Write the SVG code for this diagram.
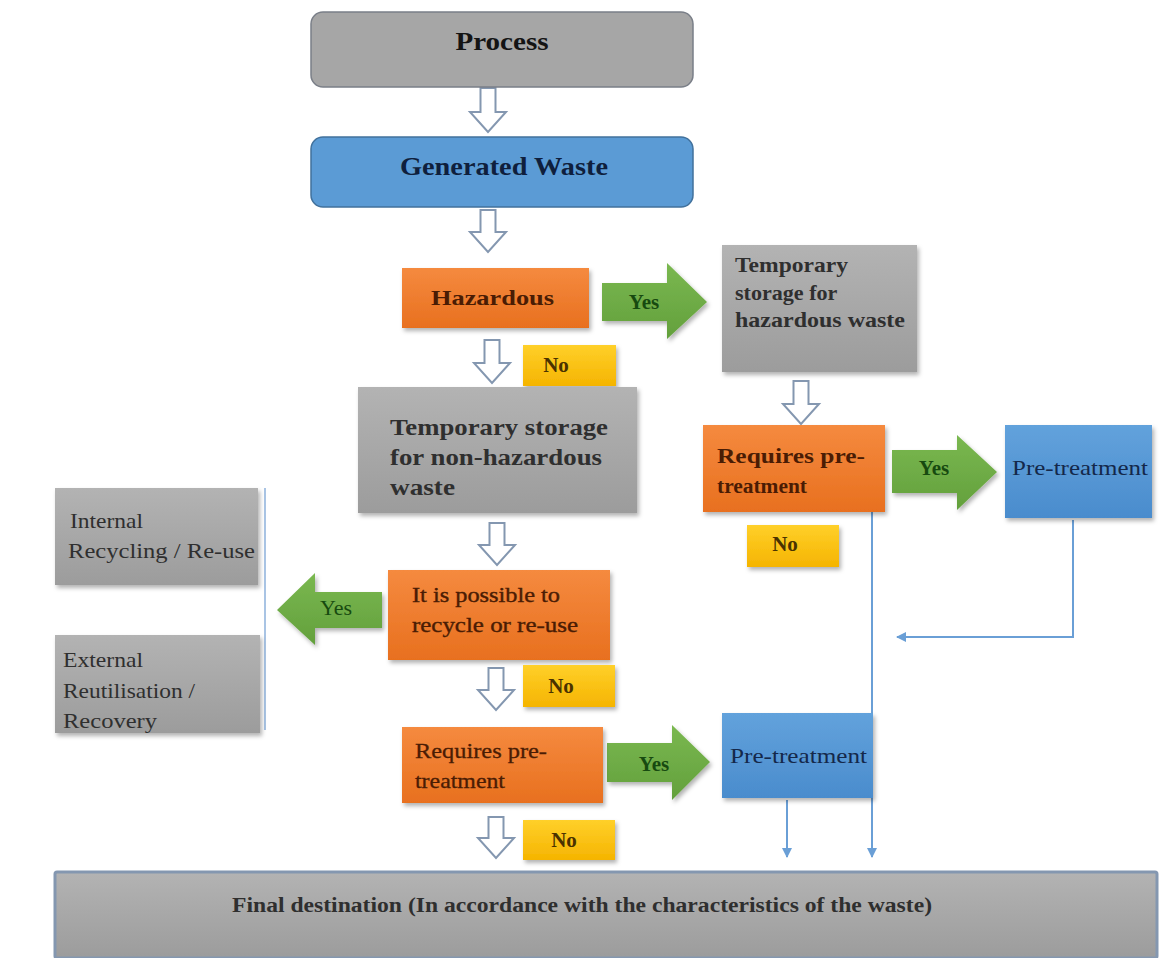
<svg xmlns="http://www.w3.org/2000/svg" width="1166" height="958" viewBox="0 0 1166 958">
  <style>
    .t { font-family: "Liberation Serif", "Times New Roman", serif; }
    .hb { font-family: "Liberation Serif", "Times New Roman", serif; font-weight: bold; }
    .gray-txt { fill: #2f2f2f; }
    .org-txt { fill: #4a1c04; }
    .blue-txt { fill: #14284a; }
    .grn-txt { fill: #174a10; }
    .yel-txt { fill: #4a3200; }
    .hollow { fill: #ffffff; stroke: #8497b0; stroke-width: 2; stroke-linejoin: miter; }
    .link { fill: none; stroke: #6a9fd6; stroke-width: 2; }
    .green { fill: url(#gGreen); }
  </style>
  <defs>
    <filter id="shadow" x="-10%" y="-10%" width="125%" height="130%">
      <feDropShadow dx="2" dy="3" stdDeviation="2" flood-color="#000" flood-opacity="0.3"/>
    </filter>
    <linearGradient id="gGray" x1="0" y1="0" x2="0" y2="1">
      <stop offset="0" stop-color="#b3b3b3"/>
      <stop offset="1" stop-color="#9c9c9c"/>
    </linearGradient>
    <linearGradient id="gOrange" x1="0" y1="0" x2="0" y2="1">
      <stop offset="0" stop-color="#f58a3f"/>
      <stop offset="1" stop-color="#e8701f"/>
    </linearGradient>
    <linearGradient id="gBlue" x1="0" y1="0" x2="0" y2="1">
      <stop offset="0" stop-color="#62a2dc"/>
      <stop offset="1" stop-color="#4a8ccd"/>
    </linearGradient>
    <linearGradient id="gYellow" x1="0" y1="0" x2="0" y2="1">
      <stop offset="0" stop-color="#ffd02a"/>
      <stop offset="1" stop-color="#f5b400"/>
    </linearGradient>
    <linearGradient id="gGreen" x1="0" y1="0" x2="0" y2="1">
      <stop offset="0" stop-color="#7ab850"/>
      <stop offset="1" stop-color="#63a03c"/>
    </linearGradient>
    <marker id="tri" markerWidth="10" markerHeight="10" refX="9" refY="5" orient="auto" markerUnits="userSpaceOnUse">
      <path d="M0,0 L10,5 L0,10 Z" fill="#6a9fd6"/>
    </marker>
  </defs>

  <rect width="1166" height="958" fill="#ffffff"/>

  <!-- connectors -->
  <g id="connectors">
    <!-- hollow flow arrows -->
    <path class="hollow" d="M480.5,88 H495.5 V112 H506 L488,132 L470,112 H480.5 Z"/>
    <path class="hollow" d="M480.5,210 H495.5 V232 H506 L488,252 L470,232 H480.5 Z"/>
    <path class="hollow" d="M484.5,340 H499.5 V363 H510 L492,383 L474,363 H484.5 Z"/>
    <path class="hollow" d="M793.5,381 H808.5 V404 H819 L801,424 L783,404 H793.5 Z"/>
    <path class="hollow" d="M489.5,523 H504.5 V545 H515 L497,565 L479,545 H489.5 Z"/>
    <path class="hollow" d="M488.5,668 H503.5 V690 H514 L496,710 L478,690 H488.5 Z"/>
    <path class="hollow" d="M488.5,817 H503.5 V838 H514 L496,858 L478,838 H488.5 Z"/>

    <!-- green decision arrows -->
    <g filter="url(#shadow)">
      <path class="green" d="M602,283 H667 V263 L707,302 L667,339 V321 H602 Z"/>
      <path class="green" d="M892,450 H957 V435 L997,472 L957,510 V493 H892 Z"/>
      <path class="green" d="M382,592 H315 V573 L277,610 L315,645 V628 H382 Z"/>
      <path class="green" d="M607,743 H672 V725 L710,762 L672,800 V782 H607 Z"/>
    </g>
    <text class="hb grn-txt" x="644" y="309" font-size="21" text-anchor="middle">Yes</text>
    <text class="hb grn-txt" x="934" y="475" font-size="21" text-anchor="middle">Yes</text>
    <text class="t grn-txt" x="336" y="615" font-size="22" text-anchor="middle">Yes</text>
    <text class="hb grn-txt" x="654" y="771" font-size="21" text-anchor="middle">Yes</text>

    <!-- thin lines to final destination -->
    <line class="link" x1="872" y1="512" x2="872" y2="857" marker-end="url(#tri)"/>
    <polyline class="link" points="1073,520 1073,637 897,637" marker-end="url(#tri)"/>
    <line class="link" x1="787" y1="800" x2="787" y2="857" marker-end="url(#tri)"/>
    <line x1="265" y1="488" x2="265" y2="730" stroke="#a9c4e4" stroke-width="2"/>
  </g>

  <!-- nodes -->
  <g id="process">
    <rect x="311" y="12" width="382" height="75" rx="12" fill="#a6a6a6" stroke="#7a7f88" stroke-width="1.5"/>
    <text class="hb" x="502" y="50" font-size="25" fill="#141414" text-anchor="middle" textLength="93" lengthAdjust="spacingAndGlyphs">Process</text>
  </g>

  <g id="generated-waste">
    <rect x="311" y="137" width="382" height="70" rx="12" fill="#5b9bd5" stroke="#41719c" stroke-width="1.5"/>
    <text class="hb" x="400" y="175" font-size="25" fill="#0f1f3d" textLength="208" lengthAdjust="spacingAndGlyphs">Generated Waste</text>
  </g>

  <g id="hazardous">
    <rect x="402" y="268" width="187" height="60" fill="url(#gOrange)" filter="url(#shadow)"/>
    <text class="hb org-txt" x="431" y="305" font-size="22" textLength="123" lengthAdjust="spacingAndGlyphs">Hazardous</text>
  </g>

  <g id="no-hazardous">
    <rect x="523" y="345" width="93" height="41" fill="url(#gYellow)" filter="url(#shadow)"/>
    <text class="hb yel-txt" x="556" y="372" font-size="21" text-anchor="middle">No</text>
  </g>

  <g id="storage-hazardous">
    <rect x="722" y="245" width="195" height="127" fill="url(#gGray)" filter="url(#shadow)"/>
    <text class="hb gray-txt" font-size="21">
      <tspan x="735" y="272" textLength="113" lengthAdjust="spacingAndGlyphs">Temporary</tspan>
      <tspan x="735" y="300" textLength="102" lengthAdjust="spacingAndGlyphs">storage for</tspan>
      <tspan x="735" y="327" textLength="170" lengthAdjust="spacingAndGlyphs">hazardous waste</tspan>
    </text>
  </g>

  <g id="storage-non-hazardous">
    <rect x="358" y="387" width="279" height="126" fill="url(#gGray)" filter="url(#shadow)"/>
    <text class="hb gray-txt" font-size="23">
      <tspan x="390" y="435" textLength="218" lengthAdjust="spacingAndGlyphs">Temporary storage</tspan>
      <tspan x="390" y="465" textLength="212" lengthAdjust="spacingAndGlyphs">for non-hazardous</tspan>
      <tspan x="390" y="495" textLength="65" lengthAdjust="spacingAndGlyphs">waste</tspan>
    </text>
  </g>

  <g id="requires-pretreatment-hazardous">
    <rect x="703" y="425" width="182" height="87" fill="url(#gOrange)" filter="url(#shadow)"/>
    <text class="hb org-txt" font-size="20">
      <tspan x="717" y="463" textLength="148" lengthAdjust="spacingAndGlyphs">Requires pre-</tspan>
      <tspan x="717" y="493" textLength="90" lengthAdjust="spacingAndGlyphs">treatment</tspan>
    </text>
  </g>

  <g id="no-pretreatment-hazardous">
    <rect x="747" y="525" width="92" height="42" fill="url(#gYellow)" filter="url(#shadow)"/>
    <text class="hb yel-txt" x="785" y="551" font-size="21" text-anchor="middle">No</text>
  </g>

  <g id="pretreatment-hazardous">
    <rect x="1005" y="425" width="147" height="93" fill="url(#gBlue)" filter="url(#shadow)"/>
    <text class="t blue-txt" x="1012" y="475" font-size="21" textLength="136" lengthAdjust="spacingAndGlyphs">Pre-treatment</text>
  </g>

  <g id="internal-recycling">
    <rect x="55" y="488" width="203" height="97" fill="url(#gGray)" filter="url(#shadow)"/>
    <text class="t gray-txt" font-size="21">
      <tspan x="70" y="528" textLength="73" lengthAdjust="spacingAndGlyphs">Internal</tspan>
      <tspan x="68" y="558" textLength="187" lengthAdjust="spacingAndGlyphs">Recycling / Re-use</tspan>
    </text>
  </g>

  <g id="external-recovery">
    <rect x="55" y="635" width="205" height="98" fill="url(#gGray)" filter="url(#shadow)"/>
    <text class="t gray-txt" font-size="21">
      <tspan x="63" y="667" textLength="80" lengthAdjust="spacingAndGlyphs">External</tspan>
      <tspan x="63" y="698" textLength="132" lengthAdjust="spacingAndGlyphs">Reutilisation /</tspan>
      <tspan x="63" y="728" textLength="94" lengthAdjust="spacingAndGlyphs">Recovery</tspan>
    </text>
  </g>

  <g id="recycle-decision">
    <rect x="388" y="570" width="222" height="90" fill="url(#gOrange)" filter="url(#shadow)"/>
    <text class="t org-txt" font-size="22" stroke="#4a1c04" stroke-width="0.4">
      <tspan x="412" y="602" textLength="148" lengthAdjust="spacingAndGlyphs">It is possible to</tspan>
      <tspan x="412" y="632" textLength="166" lengthAdjust="spacingAndGlyphs">recycle or re-use</tspan>
    </text>
  </g>

  <g id="no-recycle">
    <rect x="523" y="665" width="92" height="42" fill="url(#gYellow)" filter="url(#shadow)"/>
    <text class="hb yel-txt" x="561" y="693" font-size="21" text-anchor="middle">No</text>
  </g>

  <g id="requires-pretreatment">
    <rect x="402" y="727" width="201" height="76" fill="url(#gOrange)" filter="url(#shadow)"/>
    <text class="t org-txt" font-size="21" stroke="#4a1c04" stroke-width="0.3">
      <tspan x="415" y="758" textLength="132" lengthAdjust="spacingAndGlyphs">Requires pre-</tspan>
      <tspan x="415" y="788" textLength="90" lengthAdjust="spacingAndGlyphs">treatment</tspan>
    </text>
  </g>

  <g id="pretreatment">
    <rect x="722" y="713" width="151" height="85" fill="url(#gBlue)" filter="url(#shadow)"/>
    <text class="t blue-txt" x="730" y="763" font-size="21" textLength="137" lengthAdjust="spacingAndGlyphs">Pre-treatment</text>
  </g>

  <g id="no-pretreatment">
    <rect x="523" y="820" width="92" height="40" fill="url(#gYellow)" filter="url(#shadow)"/>
    <text class="hb yel-txt" x="564" y="847" font-size="21" text-anchor="middle">No</text>
  </g>

  <g id="final-destination">
    <rect x="55" y="872" width="1102" height="86" rx="2" fill="url(#gGray)" stroke="#8497b0" stroke-width="3"/>
    <text class="hb gray-txt" x="232" y="912" font-size="20" textLength="700" lengthAdjust="spacingAndGlyphs">Final destination (In accordance with the characteristics of the waste)</text>
  </g>
</svg>
